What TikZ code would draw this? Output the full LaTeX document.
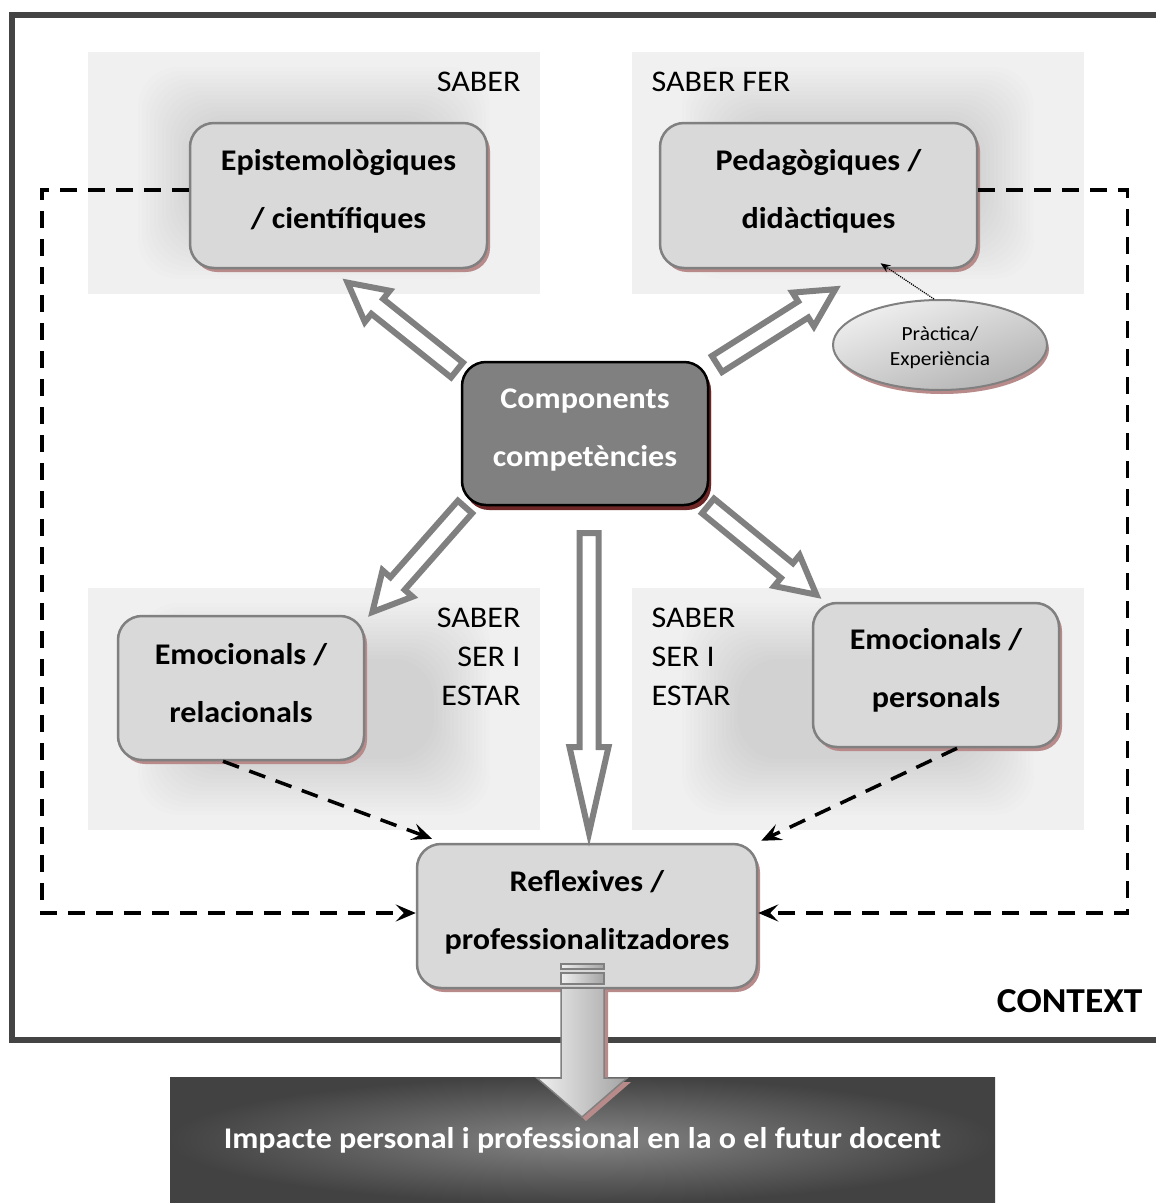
\documentclass[tikz,border=0pt]{standalone}
\usepackage{fontspec}
\setmainfont{Carlito}[FakeStretch=1.07]
\usetikzlibrary{arrows.meta,shapes.geometric,shadows,calc}

\definecolor{quadfill}{HTML}{F0F0F0}
\definecolor{boxfill}{HTML}{D9D9D9}
\definecolor{boxline}{HTML}{808080}
\definecolor{redshade}{HTML}{B88A8A}
\definecolor{darkred}{HTML}{6E2626}
\definecolor{framecol}{HTML}{444444}

\tikzset{
  pics/hollow/.style n args={3}{code={
    \draw[hollowline] (0,-9.5) -- (#1-#2,-9.5) -- (#1-#2,-#3) -- (#1,0)
      -- (#1-#2,#3) -- (#1-#2,9.5) -- (0,9.5) -- cycle;
  }},
}

\begin{document}
\begin{tikzpicture}[x=1pt,y=-1pt,
  compbox/.style={rectangle, rounded corners=24pt, draw=boxline, line width=2.5pt,
    fill=boxfill, inner sep=0pt,
    general shadow={fill=redshade, shadow xshift=3pt, shadow yshift=-4pt}},
  boxtext/.style={align=center, inner sep=0pt, font=\fontsize{30}{58}\selectfont\bfseries},
  hollowline/.style={draw=boxline, fill=white, line width=6pt, miter limit=10},
  dashline/.style={black, line width=3.5pt, dash pattern=on 17pt off 11pt,
    -{Stealth[length=20pt,width=17pt,inset=8pt]}},
  quad/.style={fill=quadfill},
  label/.style={font=\fontsize{30}{39}\selectfont},
]
\useasboundingbox (0,0) rectangle (1156,1203);
\clip (0,0) rectangle (1156,1203);
\fill[white] (0,0) rectangle (1156,1203);

% context frame (open on the right)
\draw[framecol, line width=6pt] (1170,15) -- (12,15) -- (12,1040) -- (1170,1040);
\node[anchor=east, font=\fontsize{35}{40}\selectfont\bfseries] (ctx) at (1146,1001) {CONTEXT};

% quadrant backgrounds with soft halos
\foreach \xa/\ya/\cx/\cy in {88/52/314/173, 632/52/858/173, 88/588/314/709, 632/588/858/709}{
  \fill[quad] (\xa,\ya) rectangle ++(452,242);
  \begin{scope}
    \clip (\xa,\ya) rectangle ++(452,242);
    \foreach \k in {0,...,14}{
      \fill[black, opacity=0.0095, rounded corners=40pt]
        (\cx-120-4*\k,\cy-50-4*\k) rectangle (\cx+120+4*\k,\cy+50+4*\k);
    }
  \end{scope}
}

% quadrant labels
\node[label, anchor=east] (lsaber) at (524,82) {SABER};
\node[label, anchor=west] (lfer) at (648,82) {SABER FER};
\node[label, anchor=east, align=right] (lser1) at (524,657) {SABER\\SER I\\ESTAR};
\node[label, anchor=west, align=left] (lser2) at (648,657) {SABER\\SER I\\ESTAR};

% competence nodes
\node[compbox, minimum width=297pt, minimum height=145pt] (epi) at (338.5,195.5) {};
\node[boxtext] at ([yshift=4pt]epi.center) {Epistemològiques\\/ científiques};
\node[compbox, minimum width=317pt, minimum height=145pt] (ped) at (818.5,195.5) {};
\node[boxtext] at ([yshift=4pt]ped.center) {Pedagògiques /\\didàctiques};
\node[compbox, minimum width=246pt, minimum height=144pt] (rel) at (241,688) {};
\node[boxtext] at ([yshift=5pt]rel.center) {Emocionals /\\relacionals};
\node[compbox, minimum width=246pt, minimum height=144pt] (per) at (936,675) {};
\node[boxtext] at ([yshift=5pt]per.center) {Emocionals /\\personals};
\node[compbox, minimum width=340pt, minimum height=144pt] (ref) at (587,916) {};
\node[boxtext] at ([yshift=4pt]ref.center) {Reflexives /\\professionalitzadores};

% dashed feedback loops
\draw[dashline] ([yshift=5.5pt]epi.west) -- ++(-147,0) |- ([yshift=3pt]ref.west);
\draw[dashline] ([yshift=5.5pt]ped.east) -- ++(149,0) |- ([yshift=3pt]ref.east);
\draw[dashline] ([xshift=-18pt]rel.south) -- ([xshift=-155pt,yshift=4pt]ref.north);
\draw[dashline] ([xshift=21pt]per.south) -- ([xshift=3pt,yshift=2pt]ref.north east);

% central node
\node[compbox, draw=black, fill=boxline, minimum width=246pt, minimum height=143pt,
  general shadow={fill=darkred, shadow xshift=3pt, shadow yshift=-5pt}] (comp) at (585,433.5) {};
\node[boxtext, text=white] at ([yshift=3pt]comp.center) {Components\\competències};

% experience ellipse
\node[ellipse, draw=boxline, line width=2pt, minimum width=214pt, minimum height=90pt,
  top color=black!6, bottom color=black!30, shading angle=20, inner sep=0pt,
  general shadow={fill=redshade, shadow xshift=2pt, shadow yshift=-4pt}] (ell) at (940,345) {};
\node[align=center, inner sep=0pt, font=\fontsize{20}{25}\selectfont] at ([yshift=-3pt]ell.center)
  {Pràctica/\\Experiència};
\draw[black, line width=1.2pt, densely dotted, -{Stealth[length=10pt,width=8pt]}]
  ([xshift=-6pt]ell.north) -- ([xshift=62pt,yshift=6pt]ped.south);

% hollow block arrows from the central node
\pic[rotate=141.4] at (457,370) {hollow={140}{38}{20}};
\pic[rotate=32.3] at (717,364) {hollow={140}{38}{20}};
\pic[rotate=228.6] at (465,507) {hollow={140}{38}{20}};
\pic[rotate=-39.3] at (708,506) {hollow={140}{38}{20}};
\pic[rotate=-90] at (589,533) {hollow={300}{86}{19.5}};

% outcome bar
\node[rectangle, minimum width=825pt, minimum height=126pt, inner sep=0pt,
  inner color=black!48, outer color=black!74, text=white,
  font=\fontsize{30}{34}\selectfont\bfseries] (imp) at (582.5,1140)
  {Impacte personal i professional en la o el futur docent};

% 3-D arrow from the reflective node to the outcome bar
\fill[redshade] (564,991) -- (608,991) -- (608,1082) -- (631,1082) -- (586,1121) -- (582,1117) -- cycle;
\draw[boxline, line width=1.5pt, left color=black!6, right color=black!36]
  (561,988) -- (604,988) -- (604,1078) -- (627,1078) -- (582,1117) -- (537,1078) -- (561,1078) -- cycle;
\draw[boxline, line width=1.5pt, left color=black!6, right color=black!36] (561,973) rectangle (604,984);
\draw[boxline, line width=1.5pt, left color=black!6, right color=black!36] (561,964) rectangle (604,969);
\end{tikzpicture}
\end{document}
